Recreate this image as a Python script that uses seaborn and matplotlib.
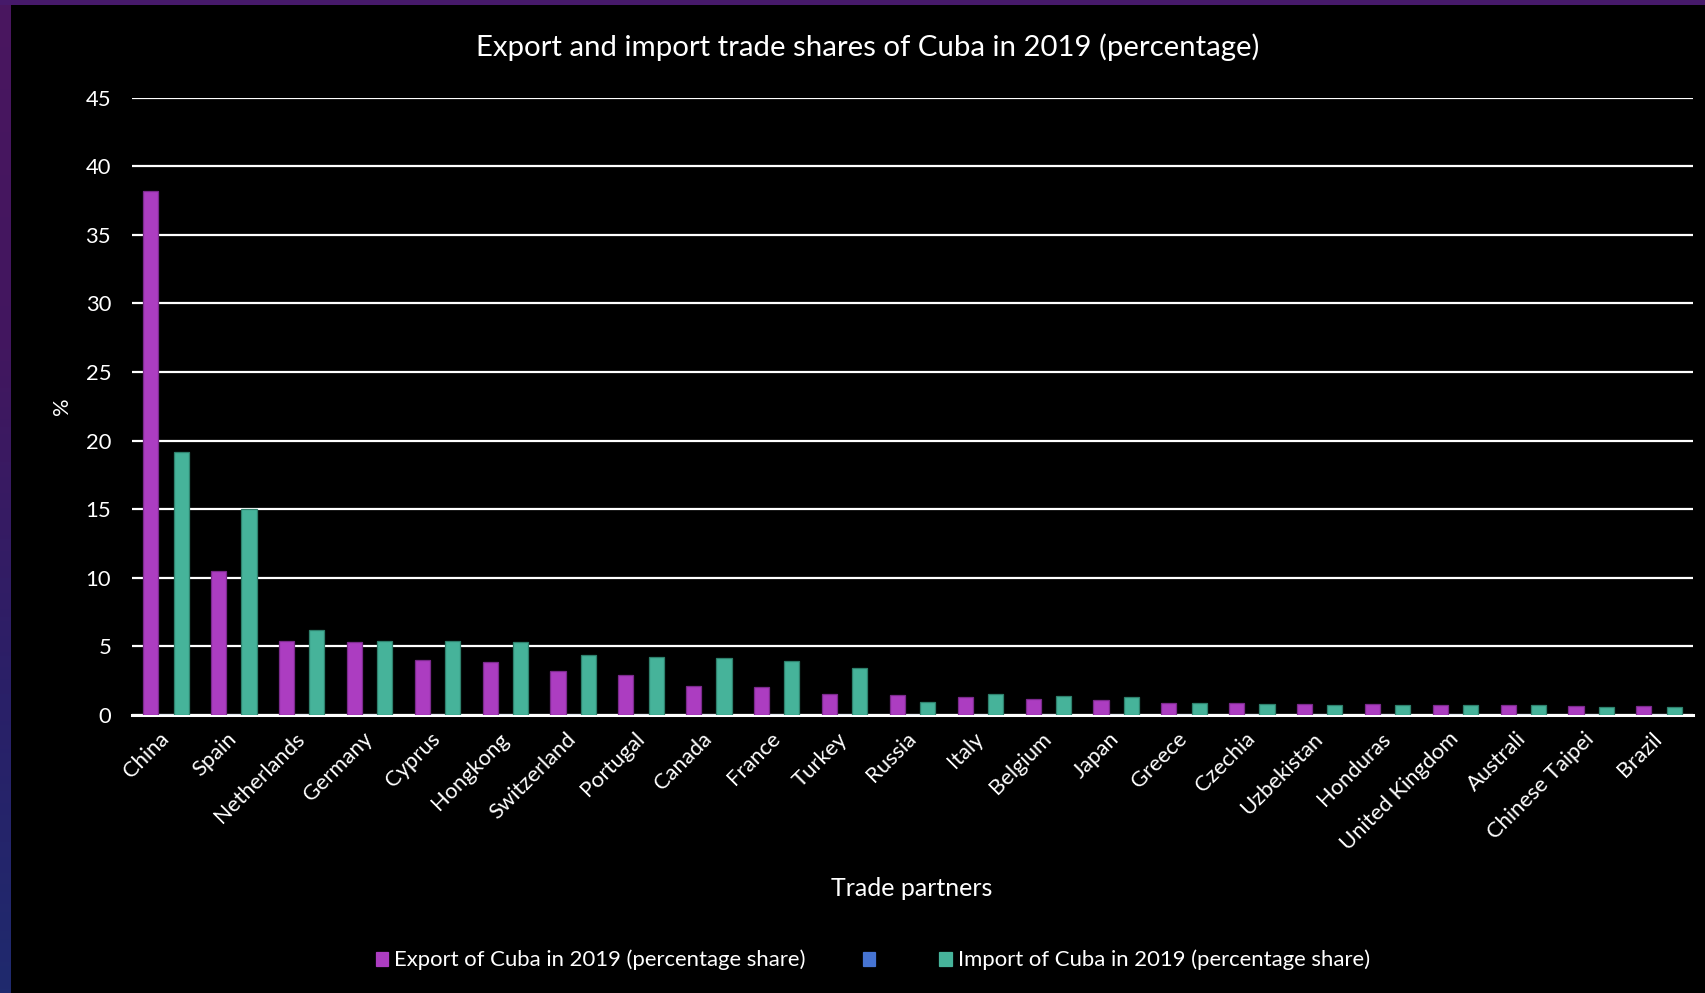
import numpy as np
import pandas as pd
import matplotlib
matplotlib.use("Agg")
import matplotlib.pyplot as plt
from matplotlib.colors import LinearSegmentedColormap
import seaborn as sns

# ---------------- data ----------------
partners = ["China", "Spain", "Netherlands", "Germany", "Cyprus", "Hongkong",
            "Switzerland", "Portugal", "Canada", "France", "Turkey", "Russia",
            "Italy", "Belgium", "Japan", "Greece", "Czechia", "Uzbekistan",
            "Honduras", "United Kingdom", "Australi", "Chinese Taipei", "Brazil"]
export_share = [38.2, 10.5, 5.4, 5.3, 4.0, 3.9, 3.2, 2.95, 2.15, 2.05, 1.5, 1.45,
                1.3, 1.15, 1.1, 0.85, 0.86, 0.83, 0.78, 0.76, 0.71, 0.66, 0.66]
import_share = [19.2, 15.0, 6.2, 5.4, 5.4, 5.3, 4.4, 4.26, 4.15, 3.97, 3.45, 0.94,
                1.53, 1.4, 1.28, 0.9, 0.83, 0.76, 0.76, 0.71, 0.71, 0.61, 0.61]
spacer_share = [0, 0, 0, 0, 0, 0, 0, 0, 0, 0, 0, 0,
                0, 0, 0, 0, 0, 0, 0, 0, 0, 0, 0]
series_names = ["Export of Cuba in 2019 (percentage share)", " ",
                "Import of Cuba in 2019 (percentage share)"]
y_ticks = [0, 5, 10, 15, 20, 25, 30, 35, 40, 45]

title = "Export and import trade shares of Cuba in 2019 (percentage)"
x_label = "Trade partners"
y_label = "%"

# ---------------- styling ----------------
colors = ["#AC3DC1", "#4674D3", "#46B39A"]
edge_colors = ["#7B2A8C", "#2F5296", "#2E806C"]
FONT = ["Lato", "DejaVu Sans"]

df = pd.concat([
    pd.DataFrame({"partner": partners, "series": series_names[0], "value": export_share}),
    pd.DataFrame({"partner": partners, "series": series_names[1], "value": spacer_share}),
    pd.DataFrame({"partner": partners, "series": series_names[2], "value": import_share}),
], ignore_index=True)

sns.set_theme(style="dark")
plt.rcParams["font.family"] = FONT

W, H = 1706, 993
fig = plt.figure(figsize=(W / 100, H / 100), dpi=100, facecolor="black")

# decorative background strips (left gradient, top band)
strip = fig.add_axes([0, 0, 11 / W, 1])
cmap = LinearSegmentedColormap.from_list(
    "strip", [(0.0, "#4A1660"), (0.35, "#42175F"), (0.7, "#2A2068"), (1.0, "#1F2A6E")])
strip.imshow(np.linspace(0, 1, 256).reshape(-1, 1), aspect="auto", cmap=cmap)
strip.axis("off")
top = fig.add_axes([0, 1 - 5 / H, 1, 5 / H])
top.set_facecolor("#46196A")
top.set_xticks([]); top.set_yticks([])
for s in top.spines.values():
    s.set_visible(False)

ax_left, ax_right = 132 / W, 1693 / W
ax_bottom, ax_top = 1 - 715 / H, 1 - 97.7 / H
ax = fig.add_axes([ax_left, ax_bottom, ax_right - ax_left, ax_top - ax_bottom])
ax.set_facecolor("black")

sns.barplot(data=df, x="partner", y="value", hue="series", order=partners,
            hue_order=series_names, palette=colors, width=0.67, ax=ax,
            errorbar=None, legend=True, linewidth=0.9, saturation=1)

for cont, ec in zip(ax.containers, edge_colors):
    for bar in cont:
        bar.set_edgecolor(ec)
        bar.set_zorder(3)

ax.set_ylim(0, 45)
ax.set_xlim(-0.5, len(partners) - 0.5)
ax.set_yticks(y_ticks)
ax.set_yticklabels([str(t) for t in y_ticks], color="white", fontsize=15.8)
ax.grid(axis="y", color="white", linewidth=1.6, zorder=0)
ax.grid(axis="x", visible=False)
ax.set_axisbelow(True)
for side in ["left", "right", "top"]:
    ax.spines[side].set_visible(False)
ax.spines["bottom"].set_color("white")
ax.spines["bottom"].set_linewidth(2.2)
ax.tick_params(axis="both", length=0)
ax.tick_params(axis="y", pad=15)
ax.tick_params(axis="x", pad=15)
for lbl in ax.get_xticklabels():
    lbl.set_rotation(45)
    lbl.set_ha("right")
    lbl.set_va("center")
    lbl.set_rotation_mode("anchor")
    lbl.set_color("white")
    lbl.set_fontsize(15.8)

ax.set_xlabel("")
ax.set_ylabel("")
fig.text(912 / W, 1 - 889 / H, x_label, color="white", fontsize=18,
         ha="center", va="center", family=FONT)
fig.text(62 / W, 1 - 406 / H, y_label, color="white", fontsize=15.8,
         ha="center", va="center", rotation=90, family=FONT)
fig.text(868 / W, 1 - 47 / H, title, color="white", fontsize=21.2,
         ha="center", va="center", family=FONT)

leg = ax.get_legend()
handles = list(leg.legend_handles)
labels = [t.get_text().strip() for t in leg.get_texts()]
leg.remove()
for h, c in zip(handles, colors):
    h.set_facecolor(c)
    h.set_edgecolor(c)
fig.legend(handles, labels, loc="center", bbox_to_anchor=(873 / W, 1 - 960 / H),
           ncol=3, frameon=False, labelcolor="white",
           handlelength=0.55, handleheight=0.6, handletextpad=0.3,
           columnspacing=2.6, prop={"family": FONT, "size": 15.9})

fig.savefig("out.png", dpi=100, facecolor="black")
